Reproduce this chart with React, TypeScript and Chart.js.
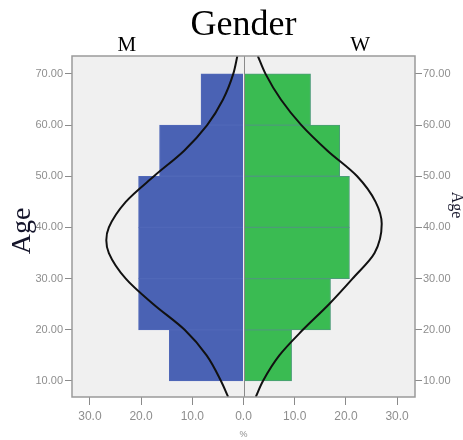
import React, { useEffect, useRef } from 'react';
import { Chart, registerables } from 'chart.js';

Chart.register(...registerables);

// Age bins (centres of the 10-year bins) and percentage per bin
const ageBins = [15, 25, 35, 45, 55, 65];
const malePct = [14.5, 20.5, 20.5, 20.5, 16.4, 8.3];
const femalePct = [9.4, 17.0, 20.7, 20.7, 18.8, 13.1];

// Normal curves (age, %)
const maleCurveAge = [73.5, 70, 65, 60, 55, 50, 45, 40, 37.5, 35, 30, 25, 20, 15, 10, 6.9];
const maleCurvePct = [1.2, 2.0, 4.0, 7.1, 11.6, 17.5, 23.0, 26.3, 26.8, 26.3, 23.0, 17.6, 11.5, 7.2, 4.4, 3.0];
const femaleCurveAge = [73.5, 70, 65, 60, 55, 50, 45, 40.7, 35, 30, 25, 20, 15, 10, 6.9];
const femaleCurvePct = [2.8, 4.3, 7.3, 11.3, 16.4, 22.2, 25.8, 27.0, 25.6, 21.3, 16.7, 11.6, 7.0, 3.8, 2.4];

const xTicks = [-30, -20, -10, 0, 10, 20, 30];
const yTicks = [10, 20, 30, 40, 50, 60, 70];

const X_MIN = -33.5;
const X_MAX = 33.5;
const Y_MIN = 6.87;
const Y_MAX = 73.5;

const SERIF = '"Liberation Serif", "Times New Roman", serif';
const GRAY_TEXT = '#8e8e8e';
const GRAY_LINE = '#8a8a8a';

export default function App() {
  const ref = useRef<HTMLCanvasElement>(null);

  useEffect(() => {
    const canvas = ref.current;
    if (!canvas) return;

    const decor = {
      id: 'pyramidDecor',
      beforeDraw(chart: any) {
        const { ctx, chartArea: a } = chart;
        ctx.save();
        ctx.fillStyle = '#f0f0f0';
        ctx.fillRect(a.left, a.top, a.right - a.left, a.bottom - a.top);
        ctx.restore();
      },
      afterDatasetsDraw(chart: any) {
        const { ctx, chartArea: a, scales } = chart;
        const x0 = Math.round(scales.x.getPixelForValue(0)) + 0.5;
        ctx.save();
        ctx.strokeStyle = GRAY_LINE;
        ctx.lineWidth = 1;
        ctx.beginPath();
        ctx.moveTo(x0, a.top);
        ctx.lineTo(x0, a.bottom);
        ctx.stroke();
        ctx.lineWidth = 1.5;
        ctx.strokeStyle = '#9a9a9a';
        ctx.strokeRect(a.left, a.top, a.right - a.left, a.bottom - a.top);
        ctx.restore();
      },
      afterDraw(chart: any) {
        const { ctx, chartArea: a, scales } = chart;
        ctx.save();
        ctx.fillStyle = '#000';
        ctx.textAlign = 'center';
        ctx.textBaseline = 'alphabetic';
        ctx.font = `36px ${SERIF}`;
        ctx.fillText('Gender', (a.left + a.right) / 2, 35);
        ctx.font = `21px ${SERIF}`;
        ctx.fillText('M', scales.x.getPixelForValue(-22.8), 50.5);
        ctx.fillText('W', scales.x.getPixelForValue(22.8), 50.5);

        ctx.fillStyle = '#14142a';
        ctx.save();
        ctx.translate(30, 231);
        ctx.rotate(-Math.PI / 2);
        ctx.font = `28px ${SERIF}`;
        ctx.fillText('Age', 0, 0);
        ctx.restore();

        ctx.save();
        ctx.translate(452, 205);
        ctx.rotate(Math.PI / 2);
        ctx.font = `16px ${SERIF}`;
        ctx.fillText('Age', 0, 0);
        ctx.restore();
        ctx.restore();
      },
    };

    const setTicks = (vals: number[]) => (scale: any) => {
      scale.ticks = vals.map((v) => ({ value: v }));
    };

    const yAxisBase = {
      type: 'linear' as const,
      min: Y_MIN,
      max: Y_MAX,
      offset: false,
      afterBuildTicks: setTicks(yTicks),
      grid: {
        offset: false,
        drawOnChartArea: false,
        drawTicks: true,
        tickLength: 7,
        tickColor: GRAY_LINE,
        tickWidth: 1,
      },
      border: { display: false },
    };

    const curveStyle = {
      type: 'line',
      borderColor: '#111111',
      borderWidth: 2,
      pointRadius: 0,
      cubicInterpolationMode: 'monotone',
      fill: false,
      clip: 0,
      order: 0,
    };

    const chart = new Chart(canvas, {
      type: 'bar',
      data: {
        datasets: [
          {
            ...curveStyle,
            label: 'M curve',
            data: maleCurveAge.map((age, i) => ({ x: -maleCurvePct[i], y: age })),
          } as any,
          {
            ...curveStyle,
            label: 'W curve',
            data: femaleCurveAge.map((age, i) => ({ x: femaleCurvePct[i], y: age })),
          } as any,
          {
            type: 'bar',
            label: 'M',
            data: ageBins.map((age, i) => ({ x: -malePct[i], y: age })),
            backgroundColor: '#4a62b4',
            borderColor: '#5068b8',
            borderWidth: 1,
            barPercentage: 1,
            categoryPercentage: 1,
            grouped: false,
            order: 2,
          } as any,
          {
            type: 'bar',
            label: 'W',
            data: ageBins.map((age, i) => ({ x: femalePct[i], y: age })),
            backgroundColor: '#3abb52',
            borderColor: '#4c9c78',
            borderWidth: 1,
            barPercentage: 1,
            categoryPercentage: 1,
            grouped: false,
            order: 2,
          } as any,
        ],
      },
      options: {
        indexAxis: 'y',
        responsive: false,
        animation: false,
        devicePixelRatio: 1,
        layout: { padding: { top: 56, left: 0, right: 0, bottom: 0 } },
        plugins: {
          legend: { display: false },
          tooltip: { enabled: false },
          title: { display: false },
        },
        scales: {
          x: {
            type: 'linear',
            min: X_MIN,
            max: X_MAX,
            afterBuildTicks: setTicks(xTicks),
            afterFit: (s: any) => {
              s.height = 43;
            },
            ticks: {
              color: GRAY_TEXT,
              font: { family: '"Liberation Sans Narrow", "Liberation Sans", Arial, sans-serif', size: 12 },
              padding: 4,
              maxRotation: 0,
              callback: (v: any) => Math.abs(Number(v)).toFixed(1),
            },
            grid: {
              drawOnChartArea: false,
              drawTicks: true,
              tickLength: 8,
              tickColor: GRAY_LINE,
              tickWidth: 1,
            },
            border: { display: false },
            title: {
              display: true,
              text: '%',
              color: GRAY_TEXT,
              font: { family: '"Liberation Sans", Arial, sans-serif', size: 9 },
              padding: { top: 0, bottom: 0 },
            },
          },
          y: {
            ...yAxisBase,
            position: 'left',
            afterFit: (s: any) => {
              s.width = 72;
            },
            ticks: {
              color: GRAY_TEXT,
              font: { family: '"Liberation Sans", Arial, sans-serif', size: 11 },
              padding: 2,
              callback: (v: any) => Number(v).toFixed(2),
            },
          },
          y2: {
            ...yAxisBase,
            position: 'right',
            afterFit: (s: any) => {
              s.width = 48;
            },
            ticks: {
              color: GRAY_TEXT,
              font: { family: '"Liberation Sans", Arial, sans-serif', size: 11 },
              padding: 1,
              callback: (v: any) => Number(v).toFixed(2),
            },
          },
        } as any,
      },
      plugins: [decor],
    });

    return () => chart.destroy();
  }, []);

  return (
    <div style={{ position: 'fixed', left: 0, top: 0, width: 463, height: 440, background: '#ffffff' }}>
      <canvas ref={ref} width={463} height={440} style={{ width: 463, height: 440, display: 'block' }} />
    </div>
  );
}
